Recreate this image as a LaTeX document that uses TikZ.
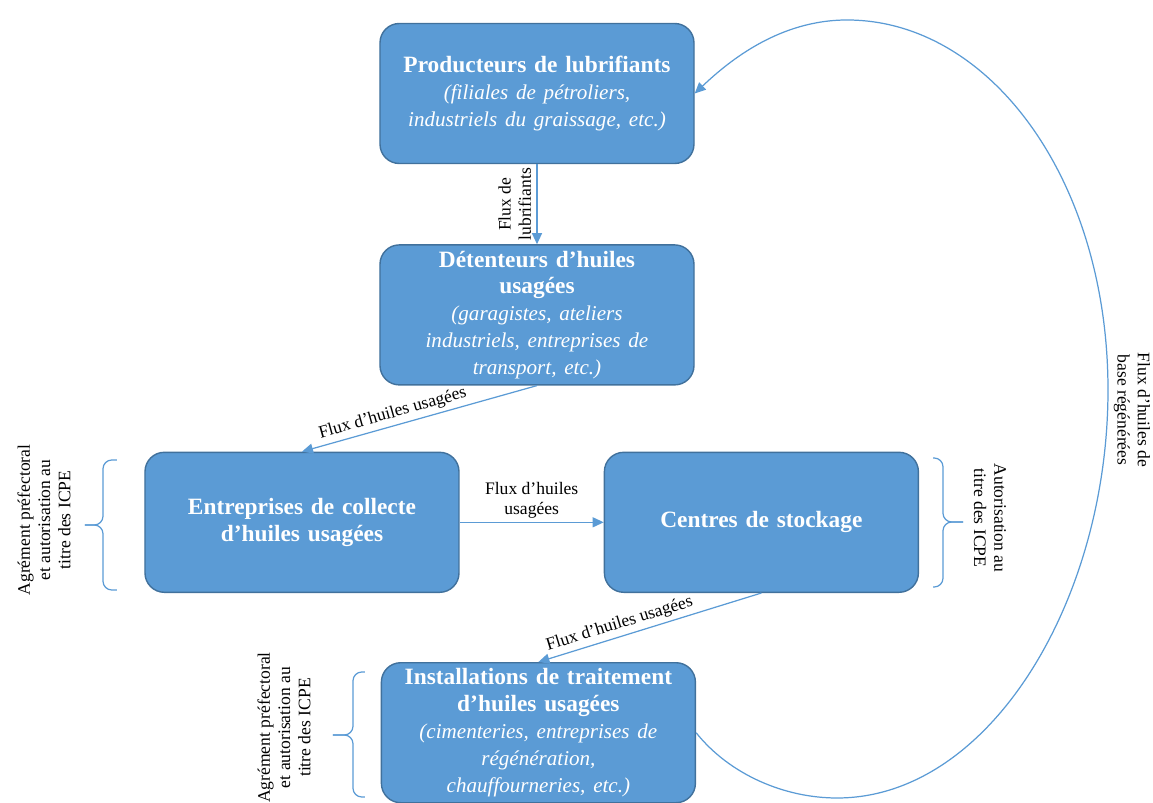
\documentclass[tikz,border=0pt]{standalone}
\usepackage{fontspec}
\setmainfont{Liberation Serif}
\usetikzlibrary{arrows.meta,positioning}
\definecolor{olblue}{HTML}{5B9BD5}
\definecolor{olborder}{HTML}{41719C}
\newcommand{\itl}{\fontsize{12}{15.3}\selectfont\mdseries\itshape}
\tikzset{
  actor/.style={rectangle, rounded corners=11pt, draw=olborder, fill=olblue, line width=0.8pt,
                text=white, align=center, text width=60mm, minimum width=62.8mm, minimum height=28mm,
                inner sep=2pt, font=\fontsize{13.3}{15.3}\selectfont\bfseries},
  flow/.style={-{Triangle[length=2.2mm,width=2mm]}, draw=olblue, line width=0.7pt},
  lbl/.style={font=\fontsize{10}{11.5}\selectfont, align=center, text=black, inner sep=2pt},
  brk/.style={draw=olblue, line width=0.7pt, rounded corners=5pt},
}
\begin{document}
\begin{tikzpicture}[node distance=16mm]
\useasboundingbox (-10.74,-14.19) rectangle (12.32,1.87);
% actors
\node[actor] (prod) {Producteurs de lubrifiants\\{\itl (filiales de pétroliers,\\ industriels du graissage, etc.)}};
\node[actor,below=of prod] (det) {Détenteurs d’huiles\\usagées\\{\itl (garagistes, ateliers\\ industriels, entreprises de\\ transport, etc.)}};
\node[actor,below=13.2mm of det,xshift=-47mm] (coll) {Entreprises de collecte\\d’huiles usagées};
\node[actor,right=28.8mm of coll] (stock) {Centres de stockage};
\node[actor,below=13.8mm of stock,xshift=-44.6mm] (inst) {Installations de traitement\\d’huiles usagées\\{\itl (cimenteries, entreprises de\\ régénération,\\ chauffourneries, etc.)}};

% flows
\draw[flow] (prod) -- node[lbl,midway,rotate=90,anchor=south,inner sep=3pt] {Flux de\\lubrifiants} (det);
\draw[flow] (det.south) -- node[lbl,sloped,above,pos=0.6] {Flux d’huiles usagées} (coll.north);
\draw[flow] (coll) -- node[lbl,above] {Flux d’huiles\\usagées} (stock);
\draw[flow] (stock.south) -- node[lbl,sloped,above,pos=0.62] {Flux d’huiles usagées} (inst.north);
\draw[flow] (inst.east) .. controls (3.86,-13.63) and (4.96,-14.09) .. (6.00,-14.09)
  .. controls (9.06,-14.09) and (11.42,-10.13) .. (11.42,-5.93)
  .. controls (11.42,-1.73) and (9.06,1.47) .. (6.20,1.47)
  .. controls (4.86,1.47) and (3.86,0.67) .. (prod.east);
\node[lbl,rotate=-90] (regen) at (11.90,-6.33) {Flux d’huiles de\\base régénérées};

% regulatory brackets
\draw[brk] (-8.40,-7.33) -| (-8.68,-8.63) -- (-9.04,-8.63);
\draw[brk] (-8.40,-9.93) -| (-8.68,-8.63) -- (-9.04,-8.63);
\node[lbl,rotate=90] (agrcoll) at (-9.86,-8.53) {Agrément préfectoral\\et autorisation au\\titre des ICPE};
\draw[brk] (7.92,-7.29) -| (8.12,-8.57) -- (8.52,-8.57);
\draw[brk] (7.92,-9.87) -| (8.12,-8.57) -- (8.52,-8.57);
\node[lbl,rotate=-90] (autstock) at (9.06,-8.49) {Autorisation au\\titre des ICPE};
\draw[brk] (-3.44,-11.57) -| (-3.68,-12.83) -- (-4.08,-12.83);
\draw[brk] (-3.44,-14.07) -| (-3.68,-12.83) -- (-4.08,-12.83);
\node[lbl,rotate=90] (agrinst) at (-5.06,-12.68) {Agrément préfectoral\\et autorisation au\\titre des ICPE};
\end{tikzpicture}
\end{document}
